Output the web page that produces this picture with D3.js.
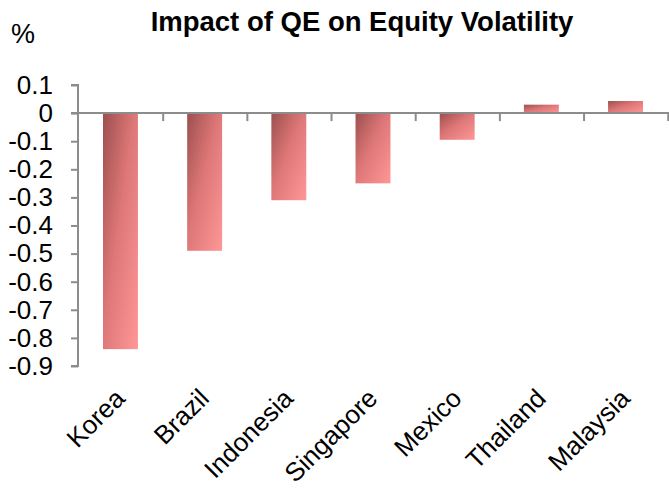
<!DOCTYPE html>
<html>
<head>
<meta charset="utf-8">
<script src="https://cdn.jsdelivr.net/npm/d3@7"></script>
<style>
  body { margin: 0; background: #fff; }
  svg { display: block; }
</style>
</head>
<body>
<script>
// data
const countries = ["Korea", "Brazil", "Indonesia", "Singapore", "Mexico", "Thailand", "Malaysia"];
const impact = [-0.84, -0.49, -0.31, -0.25, -0.095, 0.03, 0.043];
const yTicks = [0.1, 0, -0.1, -0.2, -0.3, -0.4, -0.5, -0.6, -0.7, -0.8, -0.9];

const width = 669, height = 488;
const font = "'Liberation Sans', Arial, sans-serif";

const svg = d3.select("body").append("svg")
  .attr("width", width)
  .attr("height", height)
  .style("font-family", font);

// gradient for the bars: dark top-left to pink bottom-right
const grad = svg.append("defs").append("linearGradient")
  .attr("id", "barGrad")
  .attr("x1", 0).attr("y1", 0).attr("x2", 1).attr("y2", 1);
grad.append("stop").attr("offset", "0%").attr("stop-color", "#9c4f4f");
grad.append("stop").attr("offset", "45%").attr("stop-color", "#dd7676");
grad.append("stop").attr("offset", "100%").attr("stop-color", "#ff9797");

const x = d3.scaleBand()
  .domain(countries)
  .range([78, 668])
  .paddingInner(0.585)
  .paddingOuter(0.297);

const y = d3.scaleLinear()
  .domain([-0.9, 0.1])
  .range([366, 85]);

// title and unit
svg.append("text")
  .attr("x", 362).attr("y", 31)
  .attr("text-anchor", "middle")
  .attr("font-size", 27.5)
  .attr("font-weight", "bold")
  .text("Impact of QE on Equity Volatility");

svg.append("text")
  .attr("x", 11).attr("y", 43)
  .attr("font-size", 27)
  .text("%");

// bars
svg.append("g")
  .selectAll("rect")
  .data(impact)
  .join("rect")
  .attr("x", (d, i) => x(countries[i]))
  .attr("width", x.bandwidth())
  .attr("y", d => y(Math.max(0, d)))
  .attr("height", d => Math.abs(y(d) - y(0)))
  .attr("fill", "url(#barGrad)");

// y axis
const yAxis = svg.append("g")
  .attr("transform", "translate(78,0)")
  .call(d3.axisLeft(y)
    .tickValues(yTicks)
    .tickSize(7)
    .tickPadding(18)
    .tickFormat(d => d === 0 ? "0" : d.toFixed(1)));
yAxis.selectAll("line, path").attr("stroke", "#8c8c8c").attr("stroke-width", 2);
yAxis.select("path").attr("d", `M-7,${y(0.1)}H0V${y(-0.9)}H-7`);
yAxis.selectAll("text")
  .attr("font-size", 26)
  .attr("font-family", font)
  .attr("fill", "#000");

// zero line with category separators
const step = x.step();
const x0 = x(countries[0]) - x.paddingOuter() * step;
svg.append("line")
  .attr("x1", 71).attr("x2", width)
  .attr("y1", y(0)).attr("y2", y(0))
  .attr("stroke", "#8c8c8c").attr("stroke-width", 2);
svg.append("g")
  .selectAll("line")
  .data(d3.range(1, countries.length + 1))
  .join("line")
  .attr("x1", i => x0 + i * step + 1).attr("x2", i => x0 + i * step + 1)
  .attr("y1", y(0)).attr("y2", y(0) + 8)
  .attr("stroke", "#8c8c8c").attr("stroke-width", 2);

// category labels
svg.append("g")
  .selectAll("text")
  .data(countries)
  .join("text")
  .attr("transform", d => `translate(${x(d) + x.bandwidth() / 2 + 6},${400}) rotate(-45)`)
  .attr("text-anchor", "end")
  .attr("font-size", 26)
  .text(d => d);
</script>
</body>
</html>
